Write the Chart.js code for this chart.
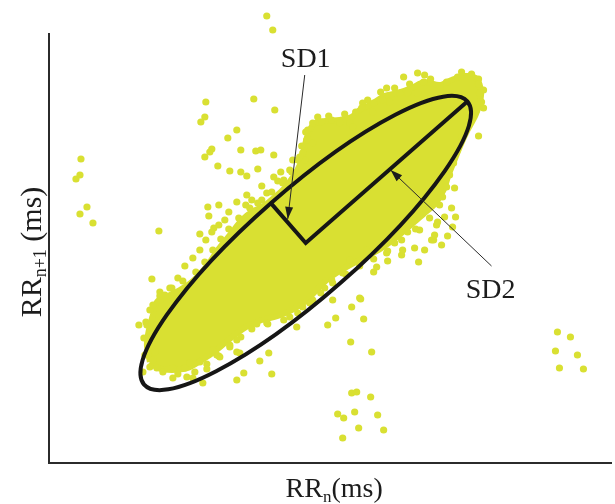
<!DOCTYPE html>
<html>
<head>
<meta charset="utf-8">
<script src="https://cdn.jsdelivr.net/npm/chart.js@4.4.1/dist/chart.umd.min.js"></script>
<style>
  html, body { margin: 0; padding: 0; background: #ffffff; }
  canvas { display: block; }
</style>
</head>
<body>
<canvas id="poincare" width="615" height="504"></canvas>
<script>
// Poincaré plot of successive RR intervals (ms)
const dotColor = '#d9e032';
const inkColor = '#161616';

// Axis ranges (ms); the drawn y axis line stops at rrn1AxisTop
const rrnRange = [400, 963];
const rrn1Range = [400, 853];
const rrn1AxisTop = 830;

// Outline of the densely packed core of the cloud (RRn, RRn+1)
const coreOutline = [
  [501,501],[498,518],[500,533],[504,548],[508,561],[519,567],[531,573],[543,581],
  [553,591],[561,601],[569,613],[577,623],[585,633],[593,643],[603,651],[615,657],
  [625,665],[636,675],[645,687],[651,698],[655,713],[659,728],[665,739],[677,742],
  [691,743],[703,746],[711,753],[723,759],[736,767],[749,770],[763,775],[776,781],
  [791,778],[803,783],[816,787],[827,785],[832,775],[832,763],[827,748],[819,733],
  [812,718],[806,703],[800,688],[795,673],[787,660],[775,649],[761,637],[747,625],
  [733,615],[719,607],[705,600],[691,592],[678,583],[667,572],[656,561],[643,553],
  [629,547],[613,543],[599,537],[587,529],[576,520],[565,511],[553,503],[539,495],
  [523,493],[509,495],[501,501]
];

// Beats along the ragged rim of the core (RRn, RRn+1)
const beatsRim = [
  [511,571],[523,575],[534,582],[547,591],[556,601],[564,613],[572,624],[580,634],
  [590,645],[601,655],[613,663],[623,671],[634,680],[643,691],[649,703],[653,717],
  [657,731],[669,746],[680,747],[696,749],[707,751],[719,763],[732,771],[746,775],
  [761,779],[782,784],[798,781],[813,791],[835,773],[835,755],
  [791,658],[781,645],[767,634],[753,623],[739,612],[725,604],[711,597],[697,589],
  [684,580],[672,570],[661,560],[649,550],[635,543],[619,539],[603,534],[592,526],
  [581,516],[570,507],[558,499],[546,491],[529,489],[514,491],[501,496],[496,508],
  [495,525],[497,541],[501,553]
];

// Individual beats around the core and far outliers (RRn, RRn+1)
const beatsUpper = [
  [618,847],[624,833],[557,761],[605,764],[626,753],[556,746],[552,741],[588,733],
  [579,725],[563,714],[561,711],[592,713],[607,712],[612,713],[556,706],[625,708],
  [569,697],[581,692],[592,691],[598,687],[609,694],[632,691],[625,686],[629,682],
  [635,683],[613,677],[598,668],[588,661],[570,658],[559,656],[560,647],[565,635],
  [551,629],[510,632],[503,584],
  [755,786],[769,790],[776,788],[775,781],[809,786],[823,789],[830,784],[830,779],
  [738,775],[751,770],[759,770],[769,770],[791,774],[725,760],[714,760],[713,755],
  [724,751],[734,763],[741,761],[701,740],[691,740],[683,743],[673,741],[664,740],
  [659,733],[658,723],[654,710],[656,703],[704,736],[664,720],[651,706],[644,703],
  [641,693],
  [597,658],[603,663],[609,660],[614,656],[618,670],[580,651],[576,643],[570,638],
  [563,631],[557,623],[551,613],[544,605],[536,597],[529,585],[521,575],[511,567],
  [504,558],[516,568]
];
const beatsLower = [
  [684,563],[703,556],[712,564],[687,545],[679,538],[715,544],[702,521],[723,511],
  [739,602],[725,591],[753,608],[770,601],[776,613],[793,618],[785,623],[799,627],
  [804,636],[807,646],[803,655],[796,646],[794,666],[788,660],[788,638],[766,615],
  [754,613],[738,610],[728,596],[711,565],[701,603],[718,613],[694,590],[683,583],
  [676,575],[664,563],[654,556],[648,536],[641,546],[759,631],[771,633],[746,620],
  [783,623],[786,628],[789,641],[806,675],[798,676],[801,688],[805,700],[809,713],
  [813,726],[819,740],[830,727],[828,753],[831,770],[833,761],
  [490,538],[498,538],[501,530],[494,491],[508,495],[524,495],[524,485],[536,495],
  [538,486],[544,485],[551,501],[554,480],[558,494],[541,500],[568,508],[581,518],
  [588,523],[588,511],[588,483],[595,490],[608,539],[618,540],[611,502],[620,510],
  [623,489],[571,506],[564,513],[591,510],[506,511],[504,503],[499,518],[511,563]
];
const beatsOutliers = [
  [432,704],[431,688],[427,684],[438,656],[431,649],[444,640],
  [703,470],[708,471],[722,466],[689,449],[695,445],[706,451],[729,448],[710,435],
  [735,433],[694,425],
  [909,531],[922,526],[907,512],[929,508],[911,495],[935,494]
];

// Standard-descriptor ellipse (ms)
const ellipseCenter = { x: 657, y: 620 };
const sd1 = 53;
const sd2 = 215;
const ellipseAngleDeg = 41.2;

// Axis titles: main text, subscript, trailing text
const xTitle = ['RR', 'n', '(ms)'];
const yTitle = ['RR', 'n+1', ' (ms)'];

// Callout labels with their leader arrows (ms)
const callouts = [
  { text: 'SD1', x: 657, y: 796, from: [656, 788], to: [639, 644] },
  { text: 'SD2', x: 842, y: 565, from: [843, 597], to: [742, 693] }
];

const toXY = arr => arr.map(([x, y]) => ({ x, y }));

const serif = '"Liberation Serif", "Times New Roman", serif';

function arrowHead(ctx, x0, y0, x1, y1, len, half) {
  const ang = Math.atan2(y1 - y0, x1 - x0);
  ctx.beginPath();
  ctx.moveTo(x1, y1);
  ctx.lineTo(x1 - len * Math.cos(ang) + half * Math.sin(ang), y1 - len * Math.sin(ang) - half * Math.cos(ang));
  ctx.lineTo(x1 - len * Math.cos(ang) - half * Math.sin(ang), y1 - len * Math.sin(ang) + half * Math.cos(ang));
  ctx.closePath();
  ctx.fill();
}

function drawSubscripted(ctx, parts, x, y, size, subSize, subDrop) {
  ctx.font = size + 'px ' + serif;
  const w0 = ctx.measureText(parts[0]).width;
  const w2 = ctx.measureText(parts[2]).width;
  ctx.font = subSize + 'px ' + serif;
  const w1 = ctx.measureText(parts[1]).width;
  const total = w0 + w1 + w2;
  let cx = x - total / 2;
  ctx.font = size + 'px ' + serif;
  ctx.fillText(parts[0], cx, y);
  cx += w0;
  ctx.font = subSize + 'px ' + serif;
  ctx.fillText(parts[1], cx, y + subDrop);
  cx += w1;
  ctx.font = size + 'px ' + serif;
  ctx.fillText(parts[2], cx, y);
}

const annotations = {
  id: 'annotations',
  afterDatasetsDraw(chart) {
    const { ctx, scales: { x, y } } = chart;
    const px = v => x.getPixelForValue(v);
    const py = v => y.getPixelForValue(v);

    // left axis line, from the bottom of the range up to rrn1AxisTop
    ctx.save();
    ctx.strokeStyle = '#2b2b2b';
    ctx.lineWidth = 2;
    ctx.beginPath();
    ctx.moveTo(px(rrnRange[0]), py(rrn1Range[0]) + 1);
    ctx.lineTo(px(rrnRange[0]), py(rrn1AxisTop));
    ctx.stroke();

    const a = ellipseAngleDeg * Math.PI / 180;
    const cx = px(ellipseCenter.x), cy = py(ellipseCenter.y);
    const e2 = [px(ellipseCenter.x + sd2 * Math.cos(a)), py(ellipseCenter.y + sd2 * Math.sin(a))];
    const e1 = [px(ellipseCenter.x - sd1 * Math.sin(a)), py(ellipseCenter.y + sd1 * Math.cos(a))];
    const r2 = Math.hypot(e2[0] - cx, e2[1] - cy);
    const r1 = Math.hypot(e1[0] - cx, e1[1] - cy);
    const rot = Math.atan2(e2[1] - cy, e2[0] - cx);

    ctx.strokeStyle = inkColor;
    ctx.lineWidth = 4;
    ctx.beginPath();
    ctx.ellipse(cx, cy, r2, r1, rot, 0, Math.PI * 2);
    ctx.stroke();

    ctx.lineJoin = 'miter';
    ctx.beginPath();
    ctx.moveTo(e1[0], e1[1]);
    ctx.lineTo(cx, cy);
    ctx.lineTo(e2[0], e2[1]);
    ctx.stroke();

    ctx.fillStyle = '#1c1c1c';
    ctx.strokeStyle = '#2a2a2a';
    ctx.lineWidth = 1;
    ctx.textAlign = 'center';
    ctx.textBaseline = 'alphabetic';
    callouts.forEach(c => {
      const x0 = px(c.from[0]), y0 = py(c.from[1]);
      const x1 = px(c.to[0]), y1 = py(c.to[1]);
      ctx.beginPath();
      ctx.moveTo(x0, y0);
      ctx.lineTo(x1, y1);
      ctx.stroke();
      arrowHead(ctx, x0, y0, x1, y1, 12, 4);
      ctx.font = '28px ' + serif;
      ctx.fillText(c.text, px(c.x), py(c.y));
    });
    ctx.restore();
  },
  afterDraw(chart) {
    const { ctx, chartArea, scales: { y } } = chart;
    const axisTop = y.getPixelForValue(rrn1AxisTop);
    ctx.save();
    ctx.fillStyle = '#1c1c1c';
    ctx.textAlign = 'left';
    ctx.textBaseline = 'alphabetic';
    drawSubscripted(ctx, xTitle, (chartArea.left + chartArea.right) / 2 + 4, 497, 28, 17, 5);
    ctx.translate(41, (axisTop + chartArea.bottom) / 2 + 4);
    ctx.rotate(-Math.PI / 2);
    drawSubscripted(ctx, yTitle, 0, 0, 30, 18, 5);
    ctx.restore();
  }
};

const dotStyle = {
  backgroundColor: dotColor,
  borderWidth: 0,
  pointRadius: 3.6,
  pointHoverRadius: 3.6,
  clip: false
};

new Chart(document.getElementById('poincare'), {
  type: 'scatter',
  data: {
    datasets: [
      { data: toXY(beatsUpper), ...dotStyle },
      { data: toXY(beatsLower), ...dotStyle },
      { data: toXY(beatsOutliers), ...dotStyle },
      { data: toXY(beatsRim), ...dotStyle },
      {
        data: toXY(coreOutline),
        showLine: true,
        fill: 'shape',
        tension: 0.3,
        backgroundColor: dotColor,
        borderColor: dotColor,
        borderWidth: 6,
        borderJoinStyle: 'round',
        pointRadius: 0,
        pointHoverRadius: 0,
        clip: false
      }
    ]
  },
  options: {
    responsive: false,
    animation: false,
    events: [],
    layout: { padding: { left: 49, right: 3, top: 10, bottom: 41 } },
    plugins: { legend: { display: false }, tooltip: { enabled: false } },
    scales: {
      x: {
        type: 'linear',
        min: rrnRange[0],
        max: rrnRange[1],
        grid: { display: false, drawTicks: false },
        ticks: { display: false },
        border: { display: true, color: '#2b2b2b', width: 2 }
      },
      y: {
        type: 'linear',
        min: rrn1Range[0],
        max: rrn1Range[1],
        grid: { display: false, drawTicks: false },
        ticks: { display: false },
        border: { display: false }
      }
    }
  },
  plugins: [annotations]
});
</script>
</body>
</html>
